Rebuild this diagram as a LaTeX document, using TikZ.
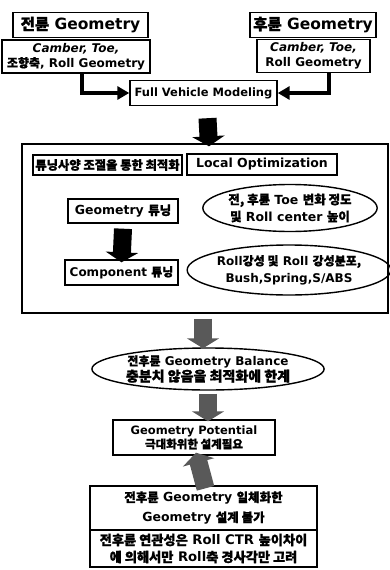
\documentclass[tikz,border=0pt]{standalone}
\usepackage{fontspec}
\setmainfont{DejaVu Sans}
\newfontfamily\krfont{Noto Sans CJK KR}[FakeBold=1.2]
\newcommand{\K}[1]{{\krfont #1}}
\newcommand{\fs}[1]{\bfseries\fontsize{#1}{#1}\selectfont}
\usetikzlibrary{arrows.meta,shapes.geometric}
\tikzset{
  bx/.style={draw, line width=1.4pt, align=center, inner sep=1pt},
  el/.style={draw, ellipse, line width=1.4pt, align=center, inner sep=0pt},
  lshaft/.style={line width=4pt, -{Triangle[width=13pt,length=12pt]}},
  blk/.style={line width=18pt, -{Triangle[width=32pt,length=10pt]}},
}
\begin{document}
\begin{tikzpicture}[x=1pt,y=-1pt]
\useasboundingbox (0,0) rectangle (390,570);
% top
\node[bx, minimum width=135pt, minimum height=25pt, font=\fs{15.5}] (frontT) at (80.5,25) {\K{전륜} Geometry};
\node[bx, minimum width=126pt, minimum height=25pt, font=\fs{15.5}] (rearT) at (313,25) {\K{후륜} Geometry};
\node[bx, minimum width=148pt, minimum height=33pt, font=\fs{12}, execute at begin node=\setlength{\baselineskip}{15pt}] (camL) at (76,56.5) {\textit{Camber, Toe,}\\\K{조향축}, Roll Geometry};
\node[bx, minimum width=113pt, minimum height=33pt, font=\fs{12}, execute at begin node=\setlength{\baselineskip}{15pt}] (camR) at (313.5,56) {\textit{Camber, Toe,}\\Roll Geometry};
\node[bx, minimum width=147pt, minimum height=25pt, font=\fs{11.5}] (fvm) at (203.5,93) {Full Vehicle Modeling};
\draw[lshaft] ([xshift=6pt]camL.south) |- (fvm.west);
\draw[lshaft] ([xshift=15pt]camR.south) |- (fvm.east);
% big box
\node[draw, line width=1.4pt, minimum width=366pt, minimum height=169pt] (big) at (205,228.5) {};
\draw[blk, black] ([xshift=4pt,yshift=-12pt]fvm.south) -- ([xshift=4pt,yshift=-3pt]big.north);
\node[bx, minimum width=149pt, minimum height=20pt, font=\fs{12.3}] (tun) at (107.5,165) {\K{튜닝사양 조절을 통한 최적화}};
\node[bx, minimum width=150pt, minimum height=21pt, font=\fs{12.5}] (loc) at (262,164.5) {Local Optimization};
\node[bx, minimum width=110pt, minimum height=24pt, font=\fs{12.5}] (geo) at (123,211) {Geometry \K{튜닝}};
\node[bx, minimum width=113pt, minimum height=25pt, font=\fs{12}] (comp) at (121.5,272.5) {Component \K{튜닝}};
\draw[blk, black] ([yshift=-5pt]geo.south) -- ([yshift=-3pt]comp.north);
\node[el, minimum width=160pt, minimum height=47pt, font=\fs{12.5}, execute at begin node=\setlength{\baselineskip}{17pt}] (ell1) at (290,208) {\K{전, 후륜} Toe \K{변화 정도}\\\K{및} Roll center \K{높이}};
\node[el, minimum width=172pt, minimum height=50pt, font=\fs{12}, execute at begin node=\setlength{\baselineskip}{17pt}] (ell2) at (289,270) {Roll\K{강성 및} Roll \K{강성분포,}\\Bush,Spring,S/ABS};
% lower
\node[el, minimum width=229pt, minimum height=42pt, font=\fs{12}, execute at begin node=\setlength{\baselineskip}{16pt}] (bal) at (208,369) {\K{전후륜} Geometry Balance\\{\fontsize{14}{14}\selectfont\K{충분치 않음을 최적화에 한계}}};
\draw[blk, black!65] ([xshift=-2pt,yshift=-5pt]big.south) -- ([xshift=-5pt,yshift=-1pt]bal.north);
\node[bx, minimum width=162pt, minimum height=35pt, font=\fs{11.5}, execute at begin node=\setlength{\baselineskip}{14pt}] (pot) at (194,437.5) {Geometry Potential\\\K{극대화위한 설계필요}};
\draw[blk, black!65] ([yshift=-3pt]bal.south) -- ([yshift=-2pt]bal.south |- pot.north);
\node[bx, minimum width=227pt, minimum height=44pt, font=\fs{12.5}, execute at begin node=\setlength{\baselineskip}{20pt}] (bot1) at (203.5,508) {\K{전후륜} Geometry \K{일체화한}\\Geometry \K{설계 불가}};
\node[bx, minimum width=227pt, minimum height=37pt, font=\fs{13.2}, execute at begin node=\setlength{\baselineskip}{17pt}] (bot2) at (203.5,548.5) {\K{전후륜 연관성은} Roll CTR \K{높이차이}\\\K{에 의해서만} Roll\K{축 경사각만 고려}};
\draw[blk, black!65] ([xshift=2pt,yshift=-3pt]bot1.north) -- ([xshift=2pt,yshift=3pt]pot.south);
\end{tikzpicture}
\end{document}
